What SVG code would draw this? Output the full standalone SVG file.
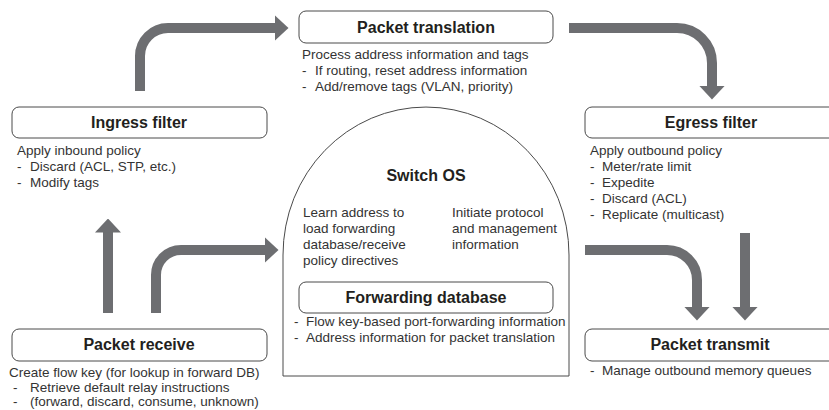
<svg xmlns="http://www.w3.org/2000/svg" width="829" height="410" viewBox="0 0 829 410">
  <style>
    .box { fill: #ffffff; stroke: #4a4a4a; stroke-width: 1; }
    .dome { fill: #ffffff; stroke: #4a4a4a; stroke-width: 1; }
    .title { font-family: "Liberation Sans", Arial, sans-serif; font-weight: bold; font-size: 16px; fill: #231f20; text-anchor: middle; }
    .body { font-family: "Liberation Sans", Arial, sans-serif; font-size: 13.5px; fill: #333333; }
    .flow { fill: none; stroke: #6d6e71; stroke-width: 10; }
  </style>
  <defs>
    <marker id="head" viewBox="0 0 14 26" refX="0.5" refY="13" markerWidth="14" markerHeight="26" markerUnits="userSpaceOnUse" orient="auto">
      <path d="M0,0 L14,13 L0,26 Z" fill="#6d6e71"/>
    </marker>
  </defs>

  <rect width="829" height="410" fill="#ffffff"/>

  <!-- Switch OS dome with its contents -->
  <g id="switch-os">
    <path class="dome" d="M283,376 V255 A143,148 0 0 1 569,255 V376 Z"/>
    <text class="title" x="426" y="181">Switch OS</text>
    <text class="body">
      <tspan x="303" y="217">Learn address to</tspan>
      <tspan x="303" y="233">load forwarding</tspan>
      <tspan x="303" y="249">database/receive</tspan>
      <tspan x="303" y="265">policy directives</tspan>
    </text>
    <text class="body">
      <tspan x="452" y="217">Initiate protocol</tspan>
      <tspan x="452" y="233">and management</tspan>
      <tspan x="452" y="249">information</tspan>
    </text>
  </g>

  <g id="forwarding-database">
    <rect class="box" x="299" y="282" width="254" height="31" rx="7"/>
    <text class="title" x="426" y="303">Forwarding database</text>
    <text class="body">
      <tspan x="294" y="326">-</tspan><tspan x="306" y="326">Flow key-based port-forwarding information</tspan>
      <tspan x="294" y="342">-</tspan><tspan x="306" y="342">Address information for packet translation</tspan>
    </text>
  </g>

  <g id="packet-translation">
    <rect class="box" x="299" y="11" width="254" height="32" rx="7"/>
    <text class="title" x="426" y="33">Packet translation</text>
    <text class="body">
      <tspan x="302" y="59">Process address information and tags</tspan>
      <tspan x="302" y="75">-</tspan><tspan x="315" y="75">If routing, reset address information</tspan>
      <tspan x="302" y="91">-</tspan><tspan x="315" y="91">Add/remove tags (VLAN, priority)</tspan>
    </text>
  </g>

  <g id="ingress-filter">
    <rect class="box" x="12" y="107" width="255" height="31" rx="7"/>
    <text class="title" x="139" y="128">Ingress filter</text>
    <text class="body">
      <tspan x="17" y="155">Apply inbound policy</tspan>
      <tspan x="17" y="171">-</tspan><tspan x="30" y="171">Discard (ACL, STP, etc.)</tspan>
      <tspan x="17" y="187">-</tspan><tspan x="30" y="187">Modify tags</tspan>
    </text>
  </g>

  <g id="egress-filter">
    <rect class="box" x="585" y="107" width="255" height="31" rx="7"/>
    <text class="title" x="711" y="128">Egress filter</text>
    <text class="body">
      <tspan x="590" y="155">Apply outbound policy</tspan>
      <tspan x="590" y="171">-</tspan><tspan x="602" y="171">Meter/rate limit</tspan>
      <tspan x="590" y="187">-</tspan><tspan x="602" y="187">Expedite</tspan>
      <tspan x="590" y="203">-</tspan><tspan x="602" y="203">Discard (ACL)</tspan>
      <tspan x="590" y="219">-</tspan><tspan x="602" y="219">Replicate (multicast)</tspan>
    </text>
  </g>

  <g id="packet-receive">
    <rect class="box" x="12" y="329" width="255" height="32" rx="7"/>
    <text class="title" x="139" y="350">Packet receive</text>
    <text class="body">
      <tspan x="9" y="377">Create flow key (for lookup in forward DB)</tspan>
      <tspan x="13" y="392">-</tspan><tspan x="30" y="392">Retrieve default relay instructions</tspan>
      <tspan x="13" y="406">-</tspan><tspan x="30" y="406">(forward, discard, consume, unknown)</tspan>
    </text>
  </g>

  <g id="packet-transmit">
    <rect class="box" x="585" y="329" width="255" height="32" rx="7"/>
    <text class="title" x="710" y="350">Packet transmit</text>
    <text class="body">
      <tspan x="590" y="375">-</tspan><tspan x="602" y="375">Manage outbound memory queues</tspan>
    </text>
  </g>

  <!-- Flow arrows between the stages -->
  <g id="connectors">
    <path class="flow" d="M140,91 V56 A28,28 0 0 1 168,28 H275" marker-end="url(#head)"/>
    <path class="flow" d="M569,28 H677 A35,35 0 0 1 712,63 V86" marker-end="url(#head)"/>
    <path class="flow" d="M108,313 V232" marker-end="url(#head)"/>
    <path class="flow" d="M156,313 V275 A25,25 0 0 1 181,250 H265" marker-end="url(#head)"/>
    <path class="flow" d="M585,250 H667 A30,30 0 0 1 697,280 V307" marker-end="url(#head)"/>
    <path class="flow" d="M745,233 V307" marker-end="url(#head)"/>
  </g>
</svg>
